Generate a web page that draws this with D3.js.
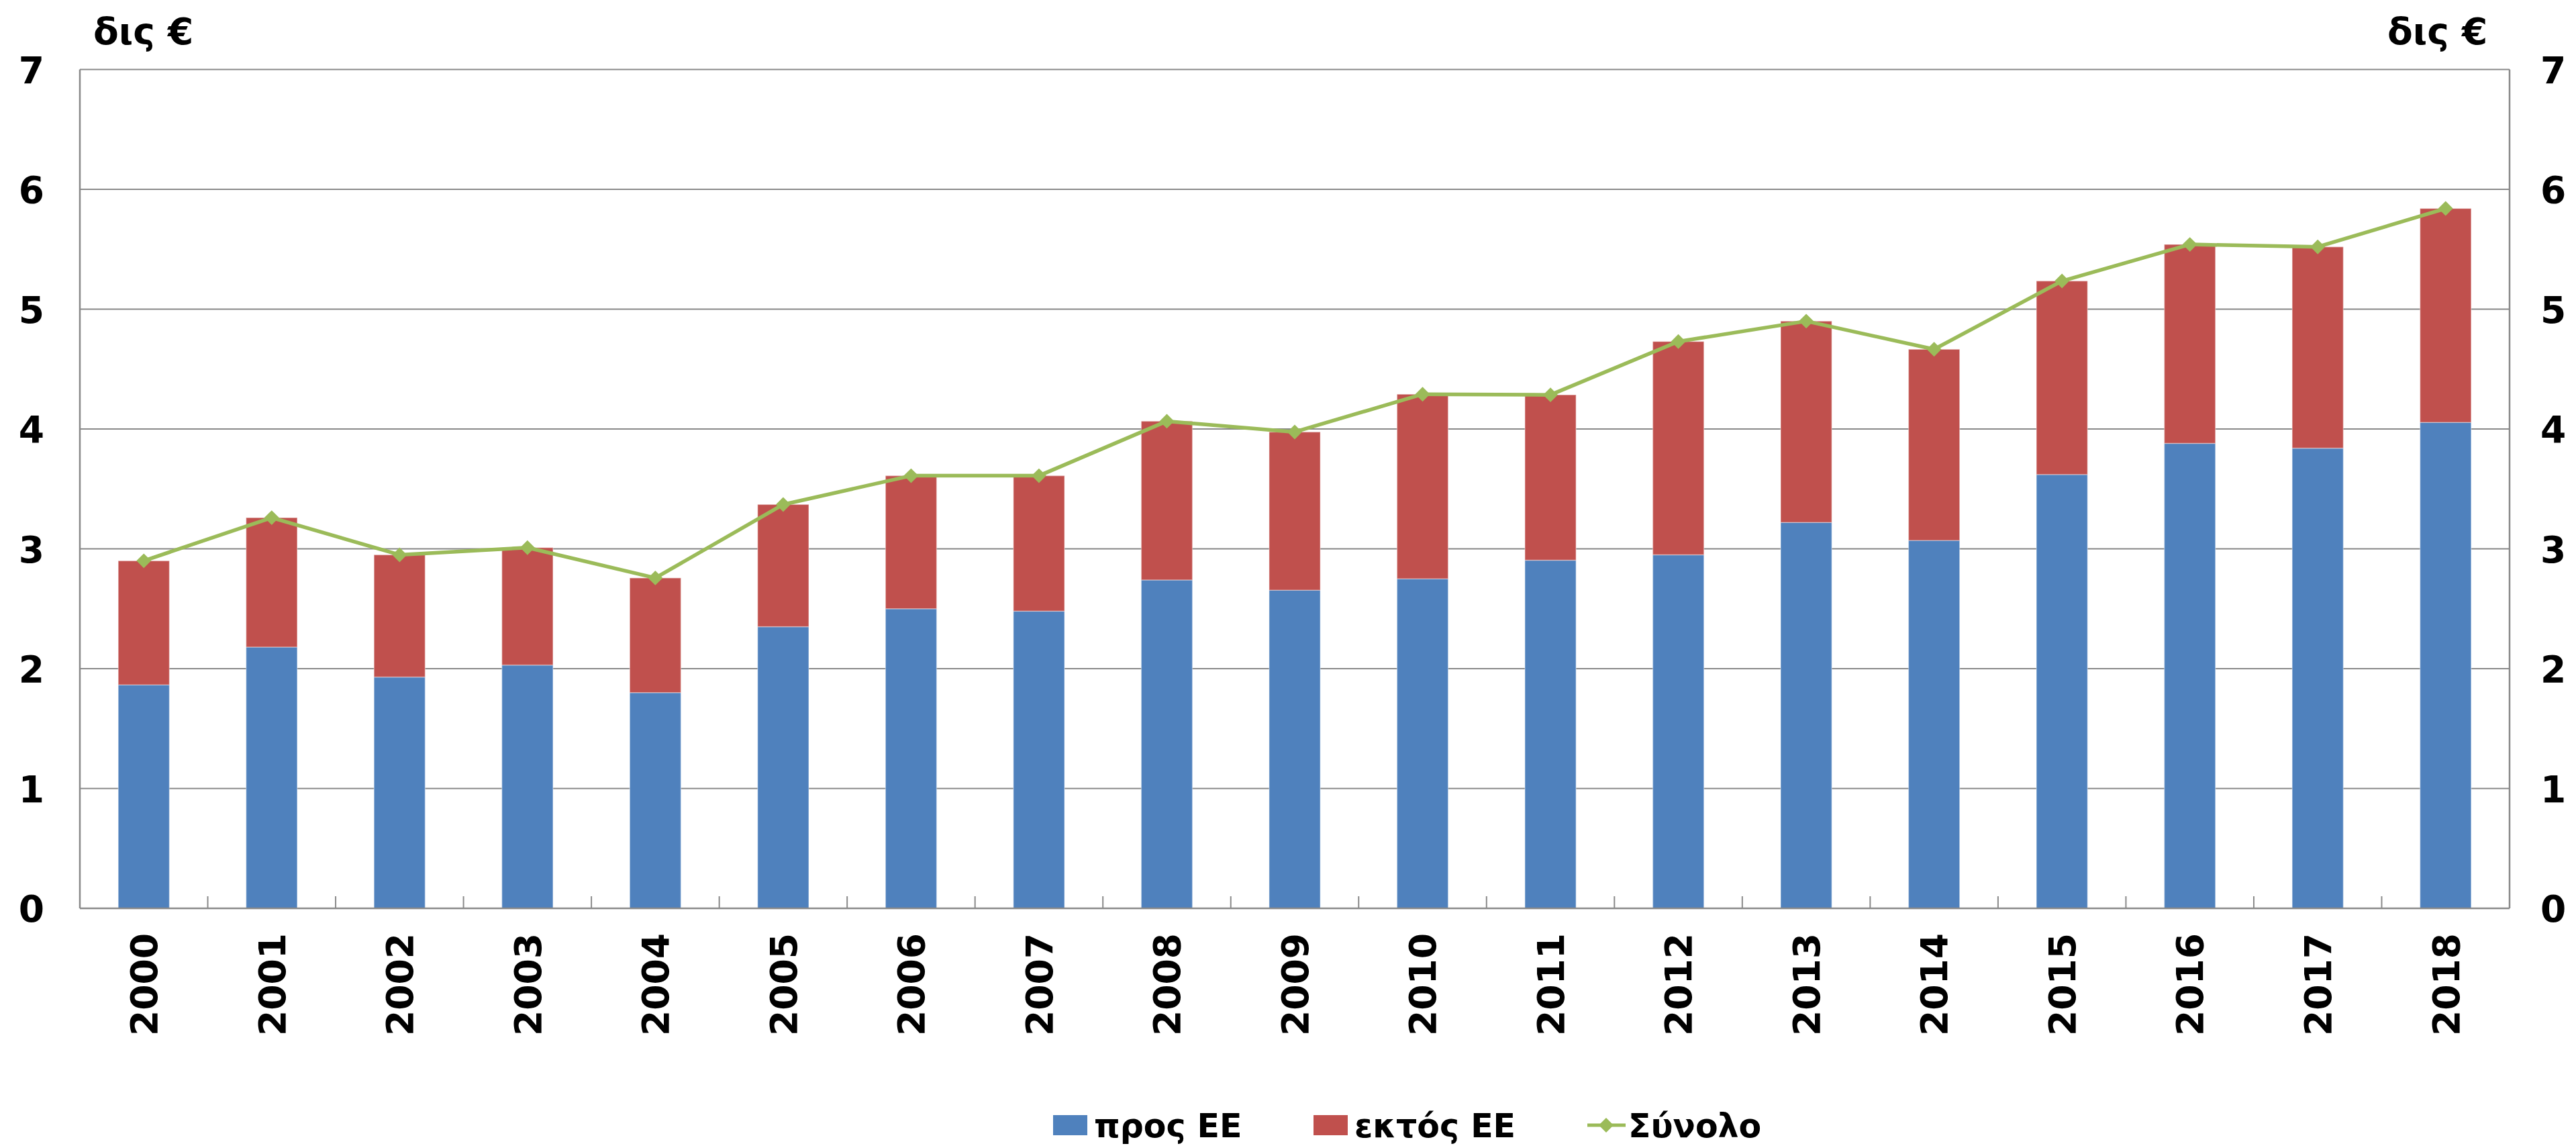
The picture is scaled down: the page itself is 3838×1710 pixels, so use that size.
<!DOCTYPE html>
<html>
<head>
<meta charset="utf-8">
<script src="https://cdnjs.cloudflare.com/ajax/libs/d3/7.8.5/d3.min.js"></script>
<style>
body { margin: 0; background: #fff; }
text { font-family: "DejaVu Sans", Verdana, sans-serif; font-weight: bold; fill: #000; }
</style>
</head>
<body>
<div id="chart"></div>
<script>

const years = ["2000","2001","2002","2003","2004","2005","2006","2007","2008","2009",
               "2010","2011","2012","2013","2014","2015","2016","2017","2018"]

// billions of euro
const prosEE  = [1.865, 2.18, 1.93, 2.03, 1.80, 2.35, 2.50, 2.48, 2.74, 2.655,
                 2.75, 2.905, 2.95, 3.22, 3.07, 3.62, 3.88, 3.84, 4.055]
const ektosEE = [1.035, 1.08, 1.02, 0.98, 0.957, 1.02, 1.11, 1.13, 1.325, 1.32,
                 1.54, 1.38, 1.78, 1.68, 1.595, 1.615, 1.66, 1.68, 1.785]

const yTicks = [0, 1, 2, 3, 4, 5, 6, 7]
const unitLabel = "δις €"
const legendNames = ["προς ΕΕ", "εκτός ΕΕ", "Σύνολο"]

const colors = { pros: "#4F81BD", ektos: "#C0504D", total: "#9BBB59" }

const W = 3838, H = 1710
const plot = { left: 119, right: 3739, top: 103.5, bottom: 1353 }

const rows = years.map((yr, i) => ({ year: yr, pros: prosEE[i], ektos: ektosEE[i], total: prosEE[i] + ektosEE[i] }))

const svg = d3.select('#chart').append('svg').attr('width', W).attr('height', H)

const x = d3.scaleBand().domain(years).range([plot.left, plot.right]).paddingInner(0.6).paddingOuter(0.3)
const y = d3.scaleLinear().domain([0, 7]).range([plot.bottom, plot.top])

// gridlines
svg.append('g').selectAll('line')
    .data(yTicks.filter(d => d > 0))
    .enter().append('line')
    .attr('x1', plot.left).attr('x2', plot.right)
    .attr('y1', d => y(d)).attr('y2', d => y(d))
    .attr('stroke', '#898989').attr('stroke-width', 2.2)

// stacked bars
const stacked = d3.stack().keys(['pros', 'ektos'])(rows)

svg.append('g').selectAll('g')
    .data(stacked)
    .enter().append('g')
    .attr('fill', d => colors[d.key])
    .selectAll('rect')
    .data(d => d)
    .enter().append('rect')
    .attr('x', d => x(d.data.year))
    .attr('width', x.bandwidth())
    .attr('y', d => y(d[1]))
    .attr('height', d => y(d[0]) - y(d[1]))
    .attr('stroke', 'rgba(255,255,255,0.35)')
    .attr('stroke-width', 1.5)

// axis frame
const gap = (x.step() - x.bandwidth()) / 2
svg.append('line').attr('x1', plot.left).attr('x2', plot.left).attr('y1', plot.top).attr('y2', plot.bottom)
    .attr('stroke', '#898989').attr('stroke-width', 2.5)
svg.append('line').attr('x1', plot.right).attr('x2', plot.right).attr('y1', plot.top).attr('y2', plot.bottom)
    .attr('stroke', '#898989').attr('stroke-width', 2.5)
svg.append('line').attr('x1', plot.left).attr('x2', plot.right).attr('y1', plot.bottom).attr('y2', plot.bottom)
    .attr('stroke', '#898989').attr('stroke-width', 2.5)

// category boundary ticks
svg.append('g').selectAll('line')
    .data(years.slice(1))
    .enter().append('line')
    .attr('x1', d => x(d) - gap).attr('x2', d => x(d) - gap)
    .attr('y1', plot.bottom).attr('y2', plot.bottom - 18)
    .attr('stroke', '#898989').attr('stroke-width', 2)

// total line
const cx = d => x(d.year) + x.bandwidth() / 2
const lineGen = d3.line().x(cx).y(d => y(d.total))

svg.append('path')
    .datum(rows)
    .attr('d', lineGen)
    .attr('fill', 'none')
    .attr('stroke', colors.total)
    .attr('stroke-width', 5.5)
    .attr('stroke-linejoin', 'round')

const diamond = d3.symbol().type(d3.symbolSquare).size(240)
svg.append('g').selectAll('path')
    .data(rows)
    .enter().append('path')
    .attr('d', diamond)
    .attr('transform', d => `translate(${cx(d)},${y(d.total)}) rotate(45)`)
    .attr('fill', colors.total)

// y axes, both sides
const fmt = d3.format('d')
const axisL = d3.axisLeft(y).tickValues(yTicks).tickFormat(fmt).tickSize(0).tickPadding(53)
const axisR = d3.axisRight(y).tickValues(yTicks).tickFormat(fmt).tickSize(0).tickPadding(46)

svg.append('g').attr('transform', `translate(${plot.left},0)`)
    .call(axisL)
    .call(g => g.select('.domain').remove())
    .selectAll('text').attr('font-size', 55).attr('font-family', null).attr('dy', '0.36em')

svg.append('g').attr('transform', `translate(${plot.right},0)`)
    .call(axisR)
    .call(g => g.select('.domain').remove())
    .selectAll('text').attr('font-size', 55).attr('font-family', null).attr('dy', '0.36em')

// x axis labels, rotated
const axisB = d3.axisBottom(x).tickSize(0)
svg.append('g').attr('transform', `translate(0,${plot.bottom})`)
    .call(axisB)
    .call(g => g.select('.domain').remove())
    .selectAll('text')
    .attr('font-size', 55).attr('font-family', null)
    .attr('text-anchor', 'end')
    .attr('transform', 'rotate(-90)')
    .attr('x', -37).attr('y', 0).attr('dy', '0.36em')

// unit labels
svg.append('text').attr('x', 139).attr('y', 66).attr('font-size', 55).text(unitLabel)
svg.append('text').attr('x', 3557).attr('y', 66).attr('font-size', 55).text(unitLabel)

// legend
const legend = svg.append('g').attr('font-size', 49)
const ly = 1694

legend.append('rect').attr('x', 1569).attr('y', ly - 33).attr('width', 51).attr('height', 30).attr('fill', colors.pros)
legend.append('text').attr('x', 1630).attr('y', ly).text(legendNames[0])

legend.append('rect').attr('x', 1957).attr('y', ly - 33).attr('width', 51).attr('height', 30).attr('fill', colors.ektos)
legend.append('text').attr('x', 2018).attr('y', ly).text(legendNames[1])

legend.append('line').attr('x1', 2365).attr('x2', 2422).attr('y1', ly - 18).attr('y2', ly - 18)
    .attr('stroke', colors.total).attr('stroke-width', 5)
legend.append('path').attr('d', diamond).attr('transform', `translate(2393,${ly - 18}) rotate(45)`).attr('fill', colors.total)
legend.append('text').attr('x', 2426).attr('y', ly).text(legendNames[2])

</script>
</body>
</html>
